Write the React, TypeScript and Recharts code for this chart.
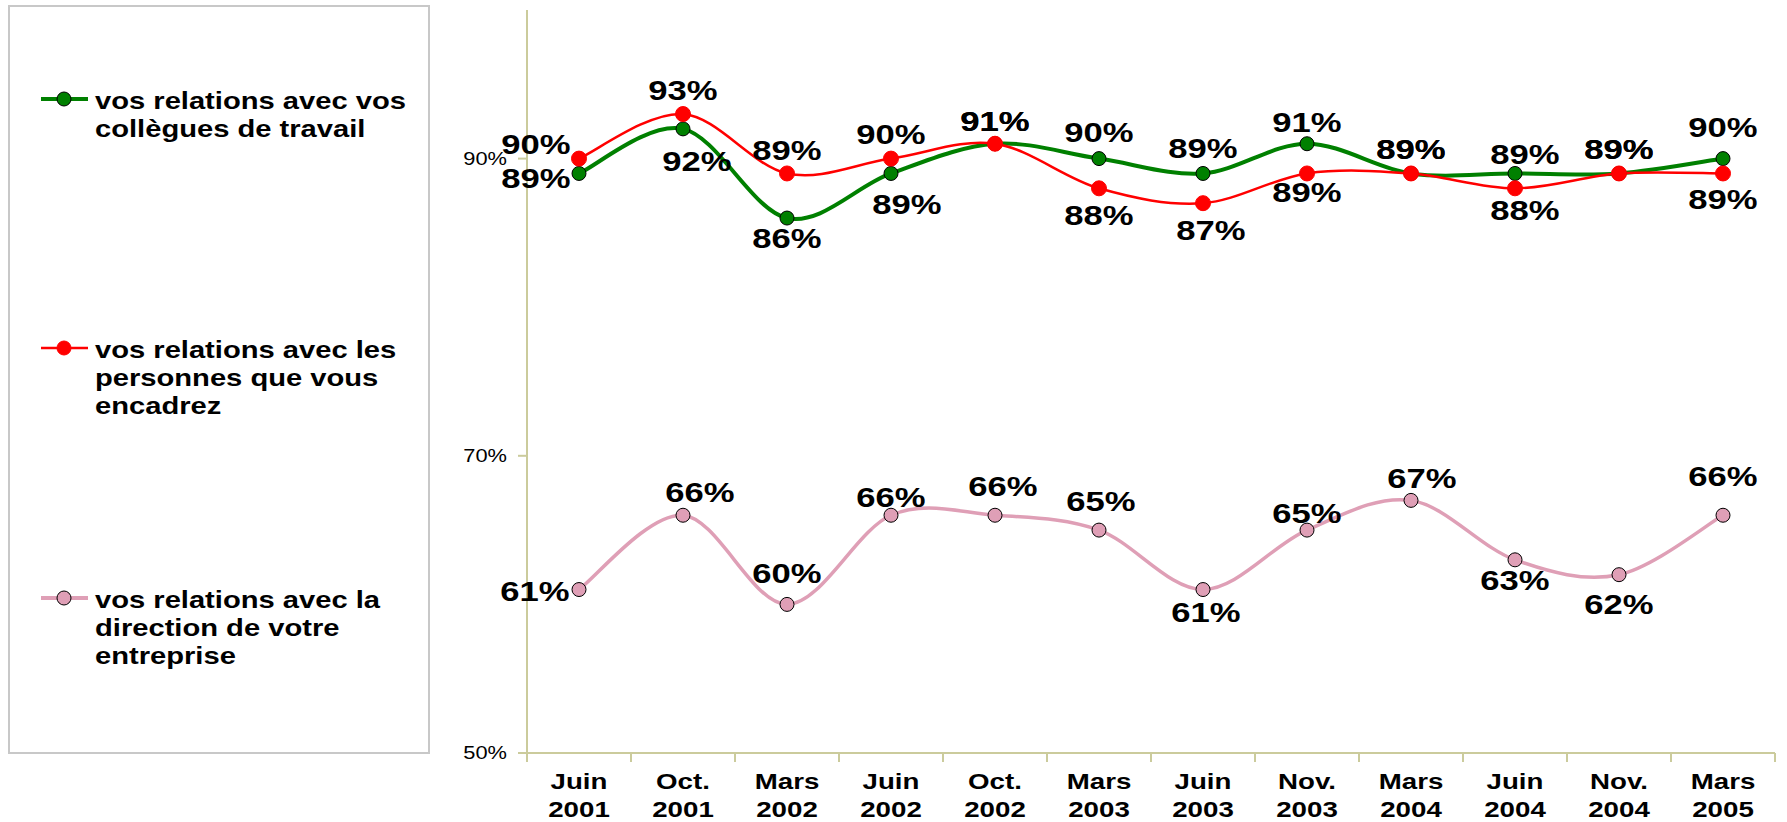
import { LineChart, Line, XAxis, YAxis, LabelList } from "recharts";

const periods = [
  "Juin 2001", "Oct. 2001", "Mars 2002", "Juin 2002", "Oct. 2002", "Mars 2003",
  "Juin 2003", "Nov. 2003", "Mars 2004", "Juin 2004", "Nov. 2004", "Mars 2005",
];
const collegues = [89, 92, 86, 89, 91, 90, 89, 91, 89, 89, 89, 90];
const encadres = [90, 93, 89, 90, 91, 88, 87, 89, 89, 88, 89, 89];
const direction = [61, 66, 60, 66, 66, 65, 61, 65, 67, 63, 62, 66];
const yTicks = [50, 70, 90];

const legendLines = [
  ["vos relations avec vos", "collègues de travail"],
  ["vos relations avec les", "personnes que vous", "encadrez"],
  ["vos relations avec la", "direction de votre", "entreprise"],
];

// where each value label sits relative to its point (px)
const colleguesLabelPos = [[-43, 5], [14, 33], [0, 21], [16, 31], [0, -22], [0, -26], [0, -25], [0, -21], [0, -24], [10, -19], [0, -24], [0, -31]];
const encadresLabelPos = [[-43, -14], [0, -23], [0, -23], [0, -24], [0, -22], [0, 27], [8, 28], [0, 19], [0, -24], [10, 22], [0, -24], [0, 26]];
const directionLabelPos = [[-44, 2], [17, -22], [0, -31], [0, -17], [8, -28], [2, -28], [3, 23], [0, -16], [11, -22], [0, 21], [0, 30], [0, -38]];

const data = periods.map((p, i) => ({
  idx: i,
  period: p,
  collegues: collegues[i],
  encadres: encadres[i],
  direction: direction[i],
}));

const FONT = "'Liberation Sans', Arial, sans-serif";
const AXIS = "#cbcb9c";
const GREEN = "#008000";
const RED = "#ff0000";
const PINK = "#df9fb6";
const STRETCH = 1.18;

// Excel-like smoothed line (bezier, tangents = neighbours / 6)
const excelSmooth = (context: any) => {
  let pts: number[][] = [];
  return {
    areaStart() {},
    areaEnd() {},
    lineStart() {
      pts = [];
    },
    point(x: number, y: number) {
      pts.push([+x, +y]);
    },
    lineEnd() {
      const n = pts.length;
      if (!n) return;
      context.moveTo(pts[0][0], pts[0][1]);
      for (let i = 0; i < n - 1; i++) {
        const p0 = pts[Math.max(i - 1, 0)];
        const p1 = pts[i];
        const p2 = pts[i + 1];
        const p3 = pts[Math.min(i + 2, n - 1)];
        context.bezierCurveTo(
          p1[0] + (p2[0] - p0[0]) / 6,
          p1[1] + (p2[1] - p0[1]) / 6,
          p2[0] - (p3[0] - p1[0]) / 6,
          p2[1] - (p3[1] - p1[1]) / 6,
          p2[0],
          p2[1]
        );
      }
    },
  };
};

const makeLabel = (pos: number[][]) => (props: any) => {
  const x = props.x ?? props.viewBox?.x;
  const y = props.y ?? props.viewBox?.y;
  const [dx, dy] = pos[props.index] || [0, -24];
  return (
    <text
      transform={`translate(${x + dx},${y + dy}) scale(1.26,1)`}
      textAnchor="middle"
      dominantBaseline="central"
      fontFamily={FONT}
      fontSize={27.5}
      fontWeight="bold"
      fill="#000"
    >
      {props.value}%
    </text>
  );
};

const XTick = ({ x, y, payload }: any) => {
  const v = payload.value;
  if (!Number.isInteger(v)) {
    return <line x1={x} x2={x} y1={y} y2={y + 9} stroke={AXIS} strokeWidth={2} />;
  }
  const [a, b] = periods[v].split(" ");
  return (
    <g transform={`translate(${x},${y})`}>
      <text transform="scale(1.23,1)" textAnchor="middle" fontFamily={FONT} fontSize={22.5} fontWeight="bold" fill="#000">
        <tspan x={0} y={36}>{a}</tspan>
        <tspan x={0} y={64}>{b}</tspan>
      </text>
    </g>
  );
};

const YTick = ({ x, y, payload }: any) => (
  <text
    transform={`translate(${x},${y}) scale(${STRETCH},1)`}
    textAnchor="end"
    dominantBaseline="central"
    fontFamily={FONT}
    fontSize={18.5}
    fill="#000"
  >
    {payload.value}%
  </text>
);

const legendItems = [
  { color: GREEN, fill: GREEN, stroke: "#000", width: 4, y: 99 },
  { color: RED, fill: RED, stroke: RED, width: 2.5, y: 348 },
  { color: PINK, fill: PINK, stroke: "#000", width: 4, y: 598 },
];

function LegendBox() {
  return (
    <svg width={440} height={822} style={{ position: "absolute", left: 0, top: 0 }}>
      <rect x={9} y={6} width={420} height={747} fill="#fff" stroke="#c8c8c8" strokeWidth={2} />
      {legendItems.map((it, i) => (
        <g key={i}>
          <line x1={41} x2={88} y1={it.y} y2={it.y} stroke={it.color} strokeWidth={it.width} />
          <circle cx={64} cy={it.y} r={7} fill={it.fill} stroke={it.stroke} strokeWidth={1} />
          <text
            transform={`translate(95,${it.y + 10}) scale(1.19,1)`}
            fontFamily={FONT}
            fontSize={24.5}
            fontWeight="bold"
            fill="#000"
          >
            {legendLines[i].map((l, j) => (
              <tspan key={j} x={0} y={j * 28}>{l}</tspan>
            ))}
          </text>
        </g>
      ))}
    </svg>
  );
}

export default function App() {
  const xTicks = [...periods.map((_, i) => i - 0.5), periods.length - 0.5, ...periods.map((_, i) => i)];
  return (
    <div style={{ position: "relative", width: 1787, height: 822, background: "#fff" }}>
      <style>{`body{margin:0}`}</style>
      <LineChart width={1787} height={822} data={data} margin={{ top: 10, right: 12, bottom: 0, left: 447 }}>
        <XAxis
          dataKey="idx"
          type="number"
          domain={[-0.5, periods.length - 0.5]}
          ticks={xTicks.sort((a, b) => a - b)}
          interval={0}
          height={69}
          tickSize={0}
          tickMargin={0}
          tickLine={false}
          axisLine={{ stroke: AXIS, strokeWidth: 2 }}
          tick={<XTick />}
        />
        <YAxis
          type="number"
          domain={[50, 100]}
          ticks={yTicks}
          width={80}
          tickSize={9}
          tickMargin={11}
          tickLine={{ stroke: AXIS, strokeWidth: 2 }}
          axisLine={{ stroke: AXIS, strokeWidth: 2 }}
          tick={<YTick />}
        />
        <Line
          dataKey="collegues"
          name={legendLines[0].join(" ")}
          type={excelSmooth as any}
          stroke={GREEN}
          strokeWidth={4}
          dot={{ r: 7, fill: GREEN, stroke: "#000", strokeWidth: 1 }}
          isAnimationActive={false}
        >
          <LabelList dataKey="collegues" content={makeLabel(colleguesLabelPos)} />
        </Line>
        <Line
          dataKey="encadres"
          name={legendLines[1].join(" ")}
          type={excelSmooth as any}
          stroke={RED}
          strokeWidth={2.5}
          dot={{ r: 7.5, fill: RED, stroke: RED, strokeWidth: 1 }}
          isAnimationActive={false}
        >
          <LabelList dataKey="encadres" content={makeLabel(encadresLabelPos)} />
        </Line>
        <Line
          dataKey="direction"
          name={legendLines[2].join(" ")}
          type={excelSmooth as any}
          stroke={PINK}
          strokeWidth={3.5}
          dot={{ r: 7, fill: PINK, stroke: "#000", strokeWidth: 1 }}
          isAnimationActive={false}
        >
          <LabelList dataKey="direction" content={makeLabel(directionLabelPos)} />
        </Line>
      </LineChart>
      <LegendBox />
    </div>
  );
}
